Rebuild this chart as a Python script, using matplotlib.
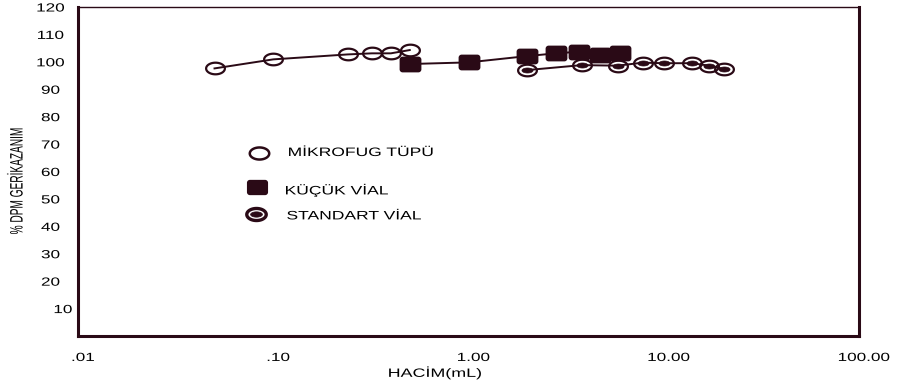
import numpy as np
import matplotlib
matplotlib.use("Agg")
import matplotlib.pyplot as plt
from matplotlib.path import Path
from matplotlib.patheffects import AbstractPathEffect
from matplotlib.transforms import Affine2D, ScaledTranslation
from matplotlib.ticker import NullLocator

plt.rcParams['font.family'] = ['Liberation Sans', 'DejaVu Sans']

# ---- data -------------------------------------------------------------
mikrofug_x = [0.05, 0.10, 0.24, 0.32, 0.40, 0.50]
mikrofug_y = [97.6, 100.9, 102.7, 103.1, 103.1, 104.3]

kucuk_x = [0.50, 1.0, 2.0, 2.8, 3.7, 4.7, 6.0]
kucuk_y = [99.2, 99.8, 102.1, 103.1, 103.7, 102.5, 103.3]

standart_x = [2.0, 3.8, 5.8, 7.8, 10.0, 13.9, 17.1, 20.4]
standart_y = [97.0, 98.8, 98.6, 99.7, 99.5, 99.5, 98.6, 97.3]

series_names = ["MİKROFUG TÜPÜ", "KÜÇÜK VİAL", "STANDART VİAL"]

x_ticks = [0.01, 0.1, 1, 10, 100]
x_ticklabels = [".01", ".10", "1.00", "10.00", "100.00"]
y_ticks = [10, 20, 30, 40, 50, 60, 70, 80, 90, 100, 110, 120]
y_ticklabels = [str(v) for v in y_ticks]

x_label = "HACİM(mL)"
y_label = "% DPM GERİKAZANIM"

INK = '#2a0a16'


class Stretch(AbstractPathEffect):
    """Draw text glyphs widened (or narrowed) along the reading direction."""

    def __init__(self, sx, anchor='center'):
        super().__init__()
        self.sx = sx
        self.anchor = anchor

    def draw_path(self, renderer, gc, tpath, affine, rgbFace=None):
        ext = tpath.get_extents()
        if self.anchor == 'left':
            cx = ext.x0
        elif self.anchor == 'right':
            cx = ext.x1
        else:
            cx = 0.5 * (ext.x0 + ext.x1)
        pre = Affine2D().translate(-cx, 0).scale(self.sx, 1).translate(cx, 0)
        renderer.draw_path(gc, tpath, pre + affine, rgbFace)


def ellipse_path(ratio, n=64):
    t = np.linspace(0, 2 * np.pi, n)
    verts = np.column_stack([np.cos(t), ratio * np.sin(t)])
    return Path(verts, closed=True)


def rounded_rect_path(ratio, r=0.22, n=8):
    hw, hh = 1.0, ratio
    pts = []
    corners = [(hw - r, hh - r, 0), (-hw + r, hh - r, 90),
               (-hw + r, -hh + r, 180), (hw - r, -hh + r, 270)]
    for cx, cy, a0 in corners:
        for a in np.linspace(np.radians(a0), np.radians(a0 + 90), n):
            pts.append((cx + r * np.cos(a), cy + r * np.sin(a)))
    pts.append(pts[0])
    return Path(np.array(pts), closed=True)


ring = ellipse_path(0.62)
dot = ellipse_path(0.45)
square = rounded_rect_path(0.70)

SX = 1.47

fig = plt.figure(figsize=(8.98, 3.87), dpi=100)
ax = fig.add_axes([0.0869, 0.1318, 0.8697, 0.8501])

ax.set_xscale('log')
ax.set_xlim(0.01, 100)
ax.set_ylim(0, 120)

ax.plot(mikrofug_x, mikrofug_y, color=INK, lw=1.4, marker=ring, ms=13.5,
        mfc='none', mec=INK, mew=1.6, zorder=3)
ax.plot(kucuk_x, kucuk_y, color=INK, lw=1.4, marker=square, ms=14.5,
        mfc=INK, mec=INK, mew=1.2, zorder=3)
ax.plot(standart_x, standart_y, color=INK, lw=1.4, marker=ring, ms=13.5,
        mfc='none', mec=INK, mew=1.6, zorder=3)
ax.plot(standart_x, standart_y, ls='none', marker=dot, ms=8,
        mfc=INK, mec=INK, mew=0.5, zorder=4)

# key placed inside the plotting area
key_marker_pos = [(0.2318, 0.5562), (0.2288, 0.4514), (0.2277, 0.3708)]
key_text_pos = [(0.2689, 0.5471), (0.2650, 0.4304), (0.2672, 0.3544)]
key_styles = [dict(marker=ring, ms=14, mfc='none', mec=INK, mew=1.8),
              dict(marker=square, ms=14, mfc=INK, mec=INK, mew=1.2),
              dict(marker=ring, ms=14, mfc='none', mec=INK, mew=2.4)]
for (mx, my), (tx, ty), name, st in zip(key_marker_pos, key_text_pos,
                                         series_names, key_styles):
    ax.plot([mx], [my], transform=ax.transAxes, ls='none', clip_on=False, **st)
    ax.text(tx, ty, name, transform=ax.transAxes, fontsize=8.8, color='black',
            ha='left', va='baseline',
            path_effects=[Stretch(1.43, 'left')])
mx, my = key_marker_pos[2]
ax.plot([mx], [my], transform=ax.transAxes, ls='none', marker=dot, ms=8.5,
        mfc=INK, mec=INK, mew=0.5)

# ticks and labels
ax.set_xticks(x_ticks)
ax.set_xticklabels(x_ticklabels)
ax.xaxis.set_minor_locator(NullLocator())
ax.set_yticks(y_ticks)
ax.set_yticklabels(y_ticklabels, ha='center')
ax.tick_params(axis='both', length=0, labelsize=8.5, colors='black')
ax.tick_params(axis='x', pad=11.5)
ax.tick_params(axis='y', pad=19.8)

for lab in ax.get_xticklabels():
    lab.set_path_effects([Stretch(1.45)])
    lab.set_transform(lab.get_transform() +
                      ScaledTranslation(5 / 100, 0, fig.dpi_scale_trans))
for lab in ax.get_yticklabels():
    lab.set_path_effects([Stretch(1.45)])
    if lab.get_text() == "10":
        lab.set_transform(lab.get_transform() +
                          ScaledTranslation(12.5 / 100, 0, fig.dpi_scale_trans))

ax.set_xlabel(x_label, fontsize=8.7, color='black',
              path_effects=[Stretch(1.48)])
ax.xaxis.set_label_coords(0.4572, -0.091)
ax.set_ylabel(y_label, fontsize=13, color='black', va='center',
              path_effects=[Stretch(0.56)])
ax.yaxis.set_label_coords(-0.0768, 0.4711)

for side in ['left', 'right', 'bottom']:
    ax.spines[side].set_linewidth(2.2)
    ax.spines[side].set_color(INK)
ax.spines['top'].set_linewidth(1.0)
ax.spines['top'].set_color(INK)

fig.savefig("out.png", dpi=100)
